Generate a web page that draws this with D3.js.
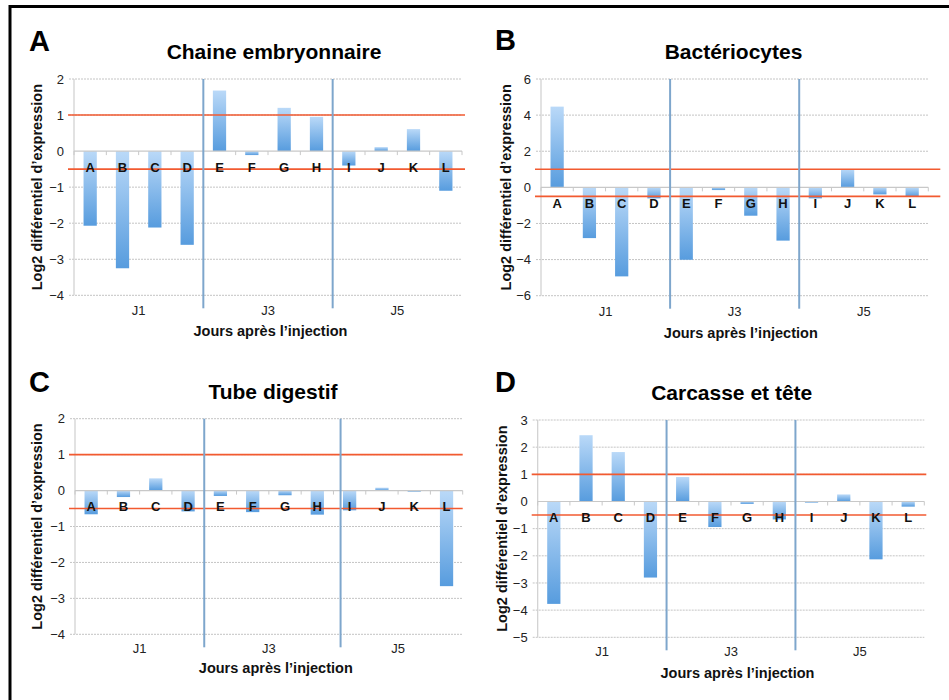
<!DOCTYPE html>
<html>
<head>
<meta charset="utf-8">
<script src="https://cdn.jsdelivr.net/npm/d3@7"></script>
<style>
  html, body { margin: 0; padding: 0; background: #fff; }
  svg { display: block; font-family: "Liberation Sans", Arial, sans-serif; }
</style>
</head>
<body>
<svg id="chart" width="949" height="700"></svg>
<script>
// ---------- DATA ----------
const categories = ["A", "B", "C", "D", "E", "F", "G", "H", "I", "J", "K", "L"];
const groups = ["J1", "J3", "J5"];
const panelLetters = ["A", "B", "C", "D"];
const titles = ["Chaine embryonnaire", "Bactériocytes", "Tube digestif", "Carcasse et tête"];

const valuesEmbryo = [-2.07, -3.25, -2.12, -2.60, 1.68, -0.11, 1.20, 0.95, -0.40, 0.11, 0.61, -1.10];
const valuesBacterio = [4.47, -2.81, -4.93, -0.61, -4.01, -0.15, -1.57, -2.95, -0.61, 1.01, -0.39, -0.52];
const valuesTube = [-0.66, -0.18, 0.34, -0.58, -0.15, -0.60, -0.13, -0.67, -0.55, 0.08, -0.03, -2.66];
const valuesCarcasse = [-3.77, 2.44, 1.82, -2.80, 0.90, -0.94, -0.09, -0.66, -0.04, 0.26, -2.13, -0.19];

const ticksEmbryo = [2, 1, 0, -1, -2, -3, -4];
const ticksBacterio = [6, 4, 2, 0, -2, -4, -6];
const ticksTube = [2, 1, 0, -1, -2, -3, -4];
const ticksCarcasse = [3, 2, 1, 0, -1, -2, -3, -4, -5];

const thresholds = [1, -0.5];
// separator positions, in category units from the left edge
const separatorsEmbryo = [4, 8];
const separatorsBacterio = [4, 8];
const separatorsTube = [4, 8.22];
const separatorsCarcasse = [4, 8];

const yTitle = "Log2 différentiel d\u2019expression";
const xTitle = "Jours après l\u2019injection";

// ---------- LAYOUT ----------
const panels = [
  { letter: panelLetters[0], title: titles[0], values: valuesEmbryo, ticks: ticksEmbryo, seps: separatorsEmbryo,
    x0: 74, x1: 462, yTop: 79, yBot: 295.3, letterX: 29, letterY: 51, titleX: 274, titleY: 59,
    yTitleX: 37, xTitleX: 270.5, xTitleY: 336, groupY: 315, redExt: 3 },
  { letter: panelLetters[1], title: titles[1], values: valuesBacterio, ticks: ticksBacterio, seps: separatorsBacterio,
    x0: 541, x1: 928.3, yTop: 79, yBot: 295.7, letterX: 495, letterY: 50, titleX: 733.5, titleY: 59,
    yTitleX: 505.5, xTitleX: 740.8, xTitleY: 338, groupY: 316, redExt: 12 },
  { letter: panelLetters[2], title: titles[2], values: valuesTube, ticks: ticksTube, seps: separatorsTube,
    x0: 75, x1: 462.7, yTop: 418.7, yBot: 634.3, letterX: 29, letterY: 392, titleX: 273, titleY: 398.5,
    yTitleX: 37, xTitleX: 275.8, xTitleY: 673, groupY: 653, redExt: 0 },
  { letter: panelLetters[3], title: titles[3], values: valuesCarcasse, ticks: ticksCarcasse, seps: separatorsCarcasse,
    x0: 537.7, x1: 924.3, yTop: 420, yBot: 637.3, letterX: 495, letterY: 392, titleX: 731.7, titleY: 400,
    yTitleX: 502, xTitleX: 737.5, xTitleY: 678, groupY: 656, redExt: 2 }
];

const svg = d3.select("#chart");

// gradient for bars: light at top, darker at bottom
const defs = svg.append("defs");
const grad = defs.append("linearGradient")
  .attr("id", "barGrad").attr("x1", 0).attr("y1", 0).attr("x2", 0).attr("y2", 1);
grad.append("stop").attr("offset", "0%").attr("stop-color", "#bad9f8");
grad.append("stop").attr("offset", "100%").attr("stop-color", "#579cde");

// outer black frame (extends past right/bottom edges)
svg.append("rect")
  .attr("x", 10).attr("y", 6.5).attr("width", 960).attr("height", 720)
  .attr("fill", "none").attr("stroke", "#000").attr("stroke-width", 3);

panels.forEach(p => {
  const g = svg.append("g");
  const y = d3.scaleLinear()
    .domain([p.ticks[p.ticks.length - 1], p.ticks[0]])
    .range([p.yBot, p.yTop]);
  const x = d3.scaleBand()
    .domain(categories)
    .range([p.x0, p.x1])
    .paddingInner(0.59)
    .paddingOuter(0.295);
  const xCat = d3.scaleLinear().domain([0, categories.length]).range([p.x0, p.x1]);

  // gridlines (dotted)
  g.append("g").selectAll("line")
    .data(p.ticks.filter(t => t !== 0))
    .join("line")
    .attr("x1", p.x0 - 5).attr("x2", p.x1)
    .attr("y1", d => y(d)).attr("y2", d => y(d))
    .attr("stroke", "#c4c4c4").attr("stroke-width", 1)
    .attr("stroke-dasharray", "2,1");

  // y axis line
  g.append("line")
    .attr("x1", p.x0).attr("x2", p.x0)
    .attr("y1", p.yTop).attr("y2", p.yBot)
    .attr("stroke", "#cfcfcf").attr("stroke-width", 1.2);

  // y tick labels
  g.append("g").selectAll("text")
    .data(p.ticks)
    .join("text")
    .attr("x", p.x0 - 10).attr("y", d => y(d))
    .attr("dy", "0.36em")
    .attr("text-anchor", "end")
    .attr("font-size", 13).attr("fill", "#222")
    .text(d => d3.format("d")(d));

  // bars
  g.append("g").selectAll("rect")
    .data(p.values.map((v, i) => ({ cat: categories[i], v })))
    .join("rect")
    .attr("x", d => x(d.cat))
    .attr("width", x.bandwidth())
    .attr("y", d => y(Math.max(0, d.v)))
    .attr("height", d => Math.abs(y(d.v) - y(0)))
    .attr("fill", "url(#barGrad)");

  // zero axis line with ticks at category boundaries
  g.append("line")
    .attr("x1", p.x0).attr("x2", p.x1)
    .attr("y1", y(0)).attr("y2", y(0))
    .attr("stroke", "#c8c8c8").attr("stroke-width", 1.2);
  g.append("g").selectAll("line")
    .data(d3.range(categories.length + 1))
    .join("line")
    .attr("x1", d => xCat(d)).attr("x2", d => xCat(d))
    .attr("y1", y(0)).attr("y2", y(0) + 4)
    .attr("stroke", "#c8c8c8").attr("stroke-width", 1);

  // threshold red lines
  g.append("g").selectAll("line")
    .data(thresholds)
    .join("line")
    .attr("x1", p.x0 - 6).attr("x2", p.x1 + p.redExt)
    .attr("y1", d => y(d)).attr("y2", d => y(d))
    .attr("stroke", "#f25a30").attr("stroke-width", 1.6);

  // category letters
  g.append("g").selectAll("text")
    .data(categories)
    .join("text")
    .attr("x", d => x(d) + x.bandwidth() / 2)
    .attr("y", y(0) + 16)
    .attr("dy", "0.36em")
    .attr("text-anchor", "middle")
    .attr("font-size", 13).attr("font-weight", "bold").attr("fill", "#111")
    .text(d => d);

  // group separators
  g.append("g").selectAll("line")
    .data(p.seps)
    .join("line")
    .attr("x1", d => xCat(d)).attr("x2", d => xCat(d))
    .attr("y1", p.yTop).attr("y2", p.yBot + 13)
    .attr("stroke", "#7ea6cc").attr("stroke-width", 2);

  // group labels
  g.append("g").selectAll("text")
    .data(groups)
    .join("text")
    .attr("x", (d, i) => xCat(i * 4 + 2))
    .attr("y", p.groupY)
    .attr("text-anchor", "middle")
    .attr("font-size", 13).attr("fill", "#222")
    .text(d => d);

  // x title
  g.append("text")
    .attr("x", p.xTitleX).attr("y", p.xTitleY)
    .attr("text-anchor", "middle")
    .attr("font-size", 14.5).attr("font-weight", "bold").attr("fill", "#111")
    .text(xTitle);

  // y title
  g.append("text")
    .attr("transform", `translate(${p.yTitleX},${(p.yTop + p.yBot) / 2}) rotate(-90)`)
    .attr("text-anchor", "middle")
    .attr("dy", "0.36em")
    .attr("font-size", 14.5).attr("font-weight", "bold").attr("fill", "#111")
    .text(yTitle);

  // chart title
  g.append("text")
    .attr("x", p.titleX).attr("y", p.titleY)
    .attr("text-anchor", "middle")
    .attr("font-size", 21).attr("font-weight", "bold").attr("fill", "#000")
    .text(p.title);

  // panel letter
  g.append("text")
    .attr("x", p.letterX).attr("y", p.letterY)
    .attr("font-size", 29).attr("font-weight", "bold").attr("fill", "#000")
    .text(p.letter);
});
</script>
</body>
</html>
